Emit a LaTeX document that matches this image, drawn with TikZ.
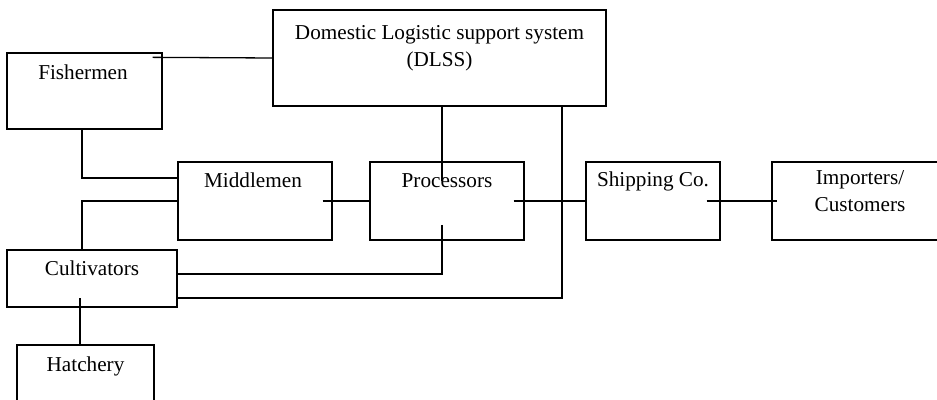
\documentclass[tikz,border=0pt]{standalone}
\usepackage{fontspec}
\setmainfont{Liberation Serif}
\begin{document}
\begin{tikzpicture}[x=0.5pt,y=-0.5pt,line width=0.65pt,
  block/.style={draw,inner sep=0pt},
  blocktext/.style={anchor=base,inner sep=0pt,align=center,font=\fontsize{10.6}{13.5}\selectfont}]
\clip (0,0) rectangle (937,400);
% boxes
\node[block,minimum width=166.5pt,minimum height=48pt] (dlss) at (439.5,58) {};
\node[block,minimum width=77.5pt,minimum height=38pt] (fish) at (84.5,91) {};
\node[block,minimum width=77pt,minimum height=39pt] (mid) at (255,201) {};
\node[block,minimum width=77pt,minimum height=39pt] (proc) at (447,201) {};
\node[block,minimum width=67pt,minimum height=39pt] (ship) at (653,201) {};
\node[block,minimum width=88pt,minimum height=39pt] (imp) at (860,201) {};
\node[block,minimum width=85pt,minimum height=28.5pt] (cult) at (92,278.5) {};
\node[block,minimum width=68.5pt,minimum height=38pt] (hat) at (85.5,383) {};
% texts (base = last line)
\node[blocktext] (dlsst) at ([shift={(0,57)}]dlss.north) {Domestic Logistic support system\\(DLSS)};
\node[blocktext] (fisht) at ([shift={(-1.5,27)}]fish.north) {Fishermen};
\node[blocktext] (midt) at ([shift={(-2,26)}]mid.north) {Middlemen};
\node[blocktext] (proct) at ([shift={(0,26)}]proc.north) {Processors};
\node[blocktext] (shipt) at ([shift={(0,25)}]ship.north) {Shipping Co.};
\node[blocktext] (impt) at ([shift={(0,50)}]imp.north) {Importers/\\Customers};
\node[blocktext] (cultt) at ([shift={(0,26)}]cult.north) {Cultivators};
\node[blocktext] (hatt) at ([shift={(0,27)}]hat.north) {Hatchery};
% connectors
\draw ([shift={(-10,5)}]fish.north east) -- (dlss.west);
\draw ([shift={(-2.5,0)}]fish.south) |- ([shift={(0,-23)}]mid.west);
\draw ([shift={(-10,0)}]cult.north) |- (mid.west);
\draw ([shift={(-10,0)}]mid.east) -- (proc.west);
\draw ([shift={(2.5,0)}]dlss.south) -- ([shift={(-5,20)}]proc.north);
\draw ([shift={(-5,24)}]proc.center) |- ([shift={(0,-4.5)}]cult.east);
\draw ([shift={(0,19.5)}]cult.east) -| ([shift={(122.5,0)}]dlss.south);
\draw ([shift={(-11,0)}]proc.east) -- (ship.west);
\draw ([shift={(-14,0)}]ship.east) -- ([shift={(6,0)}]imp.west);
\draw ([shift={(-5.5,0)}]hat.north) -- ([shift={(-12,-10)}]cult.south);
\end{tikzpicture}
\end{document}
